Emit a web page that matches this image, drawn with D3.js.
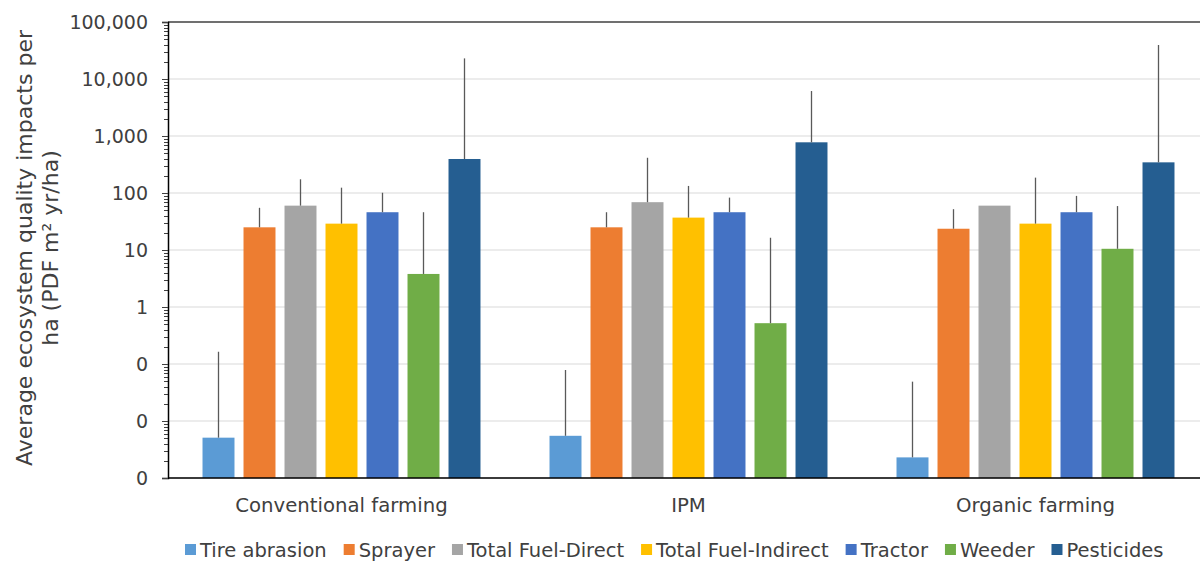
<!DOCTYPE html>
<html>
<head>
<meta charset="utf-8">
<script src="https://cdn.jsdelivr.net/npm/d3@7"></script>
<style>
  body { margin: 0; background: #fff; }
  text { font-family: Verdana, "DejaVu Sans", sans-serif; fill: #404040; }
</style>
</head>
<body>
<svg id="chart" width="1200" height="563"></svg>
<script>
// Data
const categories = ["Conventional farming", "IPM", "Organic farming"];
const series = ["Tire abrasion", "Sprayer", "Total Fuel-Direct", "Total Fuel-Indirect", "Tractor", "Weeder", "Pesticides"];
const colors = ["#5B9BD5", "#ED7D31", "#A5A5A5", "#FFC000", "#4472C4", "#70AD47", "#255E91"];

// values per category, in series order
const conventionalValues = [0.0051, 25, 60, 29, 46, 3.8, 395];
const ipmValues = [0.0055, 25, 69, 37, 46, 0.52, 775];
const organicValues = [0.0023, 23.6, 60, 29, 46, 10.5, 345];

// upper end of the error bars (null = none shown)
const conventionalUpper = [0.164, 55, 174, 124, 101, 46, 23000];
const ipmUpper = [0.0785, 46, 415, 133, 83, 16.4, 6150];
const organicUpper = [0.049, 52, null, 186, 89, 59, 39500];

const yTicks = [0.001, 0.01, 0.1, 1, 10, 100, 1000, 10000, 100000];

const allValues = [conventionalValues, ipmValues, organicValues];
const allUpper = [conventionalUpper, ipmUpper, organicUpper];

const MARGIN = { left: 168, top: 22 };
const PLOT_W = 1041;
const PLOT_H = 456;

const svg = d3.select("#chart");
const g = svg.append("g").attr("transform", `translate(${MARGIN.left}, ${MARGIN.top})`);

const y = d3.scaleLog().domain([0.001, 100000]).range([PLOT_H, 0]);
const x0 = d3.scaleBand().domain(categories).range([0, PLOT_W]);
const x1 = d3.scaleBand().domain(series).range([30, x0.bandwidth() - 30]).paddingInner(0.22).paddingOuter(0.11);

// gridlines
g.append("g")
  .selectAll("line")
  .data(yTicks)
  .enter()
  .append("line")
  .attr("x1", 0)
  .attr("x2", PLOT_W)
  .attr("y1", (d) => y(d))
  .attr("y2", (d) => y(d))
  .attr("stroke", (d) => (d === 100000 ? "#404040" : "#d9d9d9"))
  .attr("stroke-width", (d) => (d === 100000 ? 1.5 : 1.2));

// minor ticks
const minorTicks = [];
for (let e = -3; e < 5; e++) {
  for (let k = 2; k <= 9; k++) minorTicks.push(k * Math.pow(10, e));
}
g.append("g")
  .selectAll("line")
  .data(minorTicks)
  .enter()
  .append("line")
  .attr("x1", -4)
  .attr("x2", 0)
  .attr("y1", (d) => Math.round(y(d)) + 0.5)
  .attr("y2", (d) => Math.round(y(d)) + 0.5)
  .attr("stroke", "#404040")
  .attr("stroke-width", 1);

// y axis
const yAxis = d3
  .axisLeft(y)
  .tickValues(yTicks)
  .tickSize(6)
  .tickPadding(14)
  .tickFormat((d) => d3.format(",.0f")(d));

const yG = g.append("g").attr("class", "y-axis").call(yAxis);
yG.select(".domain").attr("stroke", "#000").attr("stroke-width", 1.5);
yG.selectAll(".tick line").attr("stroke", "#404040");
yG.selectAll(".tick text").style("font-size", "19px").attr("fill", "#404040");

// bars
const groups = g
  .selectAll(".cat")
  .data(categories)
  .enter()
  .append("g")
  .attr("class", "cat")
  .attr("transform", (d) => `translate(${x0(d)}, 0)`);

groups
  .selectAll("rect")
  .data((d, i) => series.map((s, j) => ({ s: s, v: allValues[i][j], c: colors[j] })))
  .enter()
  .append("rect")
  .attr("x", (d) => x1(d.s))
  .attr("width", x1.bandwidth())
  .attr("y", (d) => y(d.v))
  .attr("height", (d) => PLOT_H - y(d.v))
  .attr("fill", (d) => d.c);

// error bars, upper only
groups
  .selectAll(".err")
  .data((d, i) =>
    series
      .map((s, j) => ({ s: s, v: allValues[i][j], u: allUpper[i][j] }))
      .filter((d) => d.u !== null)
  )
  .enter()
  .append("line")
  .attr("class", "err")
  .attr("x1", (d) => x1(d.s) + x1.bandwidth() / 2)
  .attr("x2", (d) => x1(d.s) + x1.bandwidth() / 2)
  .attr("y1", (d) => y(d.v))
  .attr("y2", (d) => y(d.u))
  .attr("stroke", "#595959")
  .attr("stroke-width", 1.3);

// x axis
const xG = g.append("g").attr("transform", `translate(0, ${PLOT_H})`);
xG.append("line").attr("x1", 0).attr("x2", PLOT_W).attr("stroke", "#000").attr("stroke-width", 1.5);
xG.selectAll("text")
  .data(categories)
  .enter()
  .append("text")
  .attr("x", (d) => x0(d) + x0.bandwidth() / 2)
  .attr("y", 34)
  .attr("text-anchor", "middle")
  .style("font-size", "19.7px")
  .text((d) => d);

// y title
const title = svg
  .append("text")
  .attr("transform", `translate(32, ${MARGIN.top + PLOT_H / 2 - 2}) rotate(-90)`)
  .attr("text-anchor", "middle")
  .style("font-size", "22px");
title.append("tspan").attr("x", 0).attr("dy", 0).text("Average ecosystem quality impacts per");
title.append("tspan").attr("x", 0).attr("dy", 26).text("ha (PDF m² yr/ha)");

// legend
const legend = svg.append("g").attr("transform", "translate(0, 557)");
let lx = 185;
series.forEach((s, i) => {
  const item = legend.append("g").attr("transform", `translate(${lx}, 0)`);
  item.append("rect").attr("x", 0).attr("y", -13).attr("width", 11).attr("height", 11).attr("fill", colors[i]);
  const t = item.append("text").attr("x", 15).attr("y", 0).style("font-size", "19.5px").text(s);
  lx += 15 + t.node().getComputedTextLength() + 17;
});
</script>
</body>
</html>
